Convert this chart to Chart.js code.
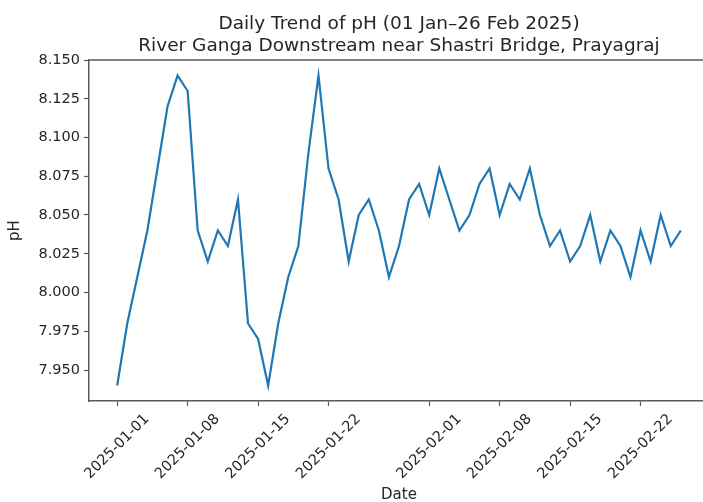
<!DOCTYPE html>
<html>
<head>
<meta charset="utf-8">
<script src="https://cdn.jsdelivr.net/npm/chart.js@4.4.1/dist/chart.umd.min.js"></script>
<style>
  html, body { margin: 0; padding: 0; background: #fff; overflow: hidden; }
  #wrap { position: relative; width: 730px; height: 502px; }
  canvas { display: block; filter: blur(0.45px); }
</style>
</head>
<body>
<div id="wrap"><canvas id="c" width="730" height="502"></canvas></div>
<script>
// Daily pH readings, River Ganga downstream near Shastri Bridge, Prayagraj
const titleLines = [
  'Daily Trend of pH (01 Jan\u201326 Feb 2025)',
  'River Ganga Downstream near Shastri Bridge, Prayagraj'
];
const xAxisLabel = 'Date';
const yAxisLabel = 'pH';

const startDate = '2025-01-01';
const endDate = '2025-02-26';

const phValues = [
  7.94, 7.98, 8.01, 8.04, 8.08, 8.12, 8.14, 8.13, 8.04, 8.02,
  8.04, 8.03, 8.06, 7.98, 7.97, 7.94, 7.98, 8.01, 8.03, 8.09,
  8.14, 8.08, 8.06, 8.02, 8.05, 8.06, 8.04, 8.01, 8.03, 8.06,
  8.07, 8.05, 8.08, 8.06, 8.04, 8.05, 8.07, 8.08, 8.05, 8.07,
  8.06, 8.08, 8.05, 8.03, 8.04, 8.02, 8.03, 8.05, 8.02, 8.04,
  8.03, 8.01, 8.04, 8.02, 8.05, 8.03, 8.04
];

const xTickLabels = [
  '2025-01-01', '2025-01-08', '2025-01-15', '2025-01-22',
  '2025-02-01', '2025-02-08', '2025-02-15', '2025-02-22'
];

const yTickValues = [7.950, 7.975, 8.000, 8.025, 8.050, 8.075, 8.100, 8.125, 8.150];

// ---- helpers -------------------------------------------------------------
const DAY_MS = 86400000;
function dayIndex(iso) {
  return Math.round((Date.parse(iso + 'T00:00:00Z') - Date.parse(startDate + 'T00:00:00Z')) / DAY_MS);
}
function isoForIndex(i) {
  return new Date(Date.parse(startDate + 'T00:00:00Z') + i * DAY_MS).toISOString().slice(0, 10);
}

const dates = phValues.map((_, i) => isoForIndex(i));
const points = dates.map((d, i) => ({ x: dayIndex(d), y: phValues[i] }));

// matplotlib-style 5% margins around the data
const xFirst = dayIndex(startDate), xLast = dayIndex(endDate);
const xPad = (xLast - xFirst) * 0.05;
const yMinData = Math.min(...phValues), yMaxData = Math.max(...phValues);
const yPad = (yMaxData - yMinData) * 0.05;

const FONT = "'DejaVu Sans', sans-serif";
const TEXT = '#262626';
const SPINE = '#5a5a5a';
const TICK_PX = 14.5;

// Top spine, rotated date labels, axis labels and the two-line title
const decorations = {
  id: 'decorations',
  afterDraw(chart) {
    const { ctx, chartArea: a, scales } = chart;
    ctx.save();

    // top spine
    ctx.strokeStyle = SPINE;
    ctx.lineWidth = 1.5;
    ctx.beginPath();
    ctx.moveTo(a.left, a.top);
    ctx.lineTo(a.right, a.top);
    ctx.stroke();

    // x tick labels, rotated 45 degrees and centred under each tick
    ctx.fillStyle = TEXT;
    ctx.font = TICK_PX + 'px ' + FONT;
    ctx.textAlign = 'center';
    ctx.textBaseline = 'middle';
    const h = TICK_PX * 1.15;
    xTickLabels.forEach(lbl => {
      const px = scales.x.getPixelForValue(dayIndex(lbl));
      const w = ctx.measureText(lbl).width;
      const side = (w + h) * Math.SQRT1_2;
      const cy = a.bottom + 10 + side / 2;
      ctx.save();
      ctx.translate(px, cy);
      ctx.rotate(-Math.PI / 4);
      ctx.fillText(lbl, 0, 0);
      ctx.restore();
    });

    // axis labels
    const cx = (a.left + a.right) / 2;
    ctx.font = '15px ' + FONT;
    ctx.textAlign = 'center';
    ctx.textBaseline = 'alphabetic';
    ctx.fillText(xAxisLabel, cx, 499);

    ctx.save();
    ctx.translate(15, (a.top + a.bottom) / 2);
    ctx.rotate(-Math.PI / 2);
    ctx.textBaseline = 'middle';
    ctx.fillText(yAxisLabel, 0, 0);
    ctx.restore();

    // title
    ctx.font = '18.5px ' + FONT;
    ctx.textBaseline = 'alphabetic';
    ctx.fillText(titleLines[0], cx, 28.5);
    ctx.fillText(titleLines[1], cx, 50.7);

    ctx.restore();
  }
};

new Chart(document.getElementById('c'), {
  type: 'line',
  data: {
    datasets: [{
      label: yAxisLabel,
      data: points,
      borderColor: '#1f77b4',
      borderWidth: 2.2,
      pointRadius: 0,
      tension: 0,
      fill: false
    }]
  },
  options: {
    responsive: false,
    animation: false,
    devicePixelRatio: 1,
    layout: { padding: { left: 0, top: 60, right: 21, bottom: 0 } },
    plugins: {
      legend: { display: false },
      tooltip: { enabled: false },
      title: { display: false }
    },
    scales: {
      x: {
        type: 'linear',
        min: xFirst - xPad,
        max: xLast + xPad,
        afterBuildTicks(scale) {
          scale.ticks = xTickLabels.map(l => ({ value: dayIndex(l) }));
        },
        afterFit(scale) { scale.height = 101; },
        ticks: { display: false },
        grid: {
          display: true,
          drawOnChartArea: false,
          drawTicks: true,
          tickLength: 5,
          tickColor: SPINE,
          tickWidth: 1.2
        },
        border: { display: true, color: SPINE, width: 1.5 }
      },
      y: {
        type: 'linear',
        min: yMinData - yPad,
        max: yMaxData + yPad,
        afterBuildTicks(scale) {
          scale.ticks = yTickValues.map(v => ({ value: v }));
        },
        afterFit(scale) { scale.width = 89; },
        ticks: {
          color: TEXT,
          padding: 4,
          font: { family: FONT, size: TICK_PX },
          callback: v => Number(v).toFixed(3)
        },
        grid: {
          display: true,
          drawOnChartArea: false,
          drawTicks: true,
          tickLength: 5,
          tickColor: SPINE,
          tickWidth: 1.2
        },
        border: { display: true, color: SPINE, width: 1.5 }
      }
    }
  },
  plugins: [decorations]
});
</script>
</body>
</html>
